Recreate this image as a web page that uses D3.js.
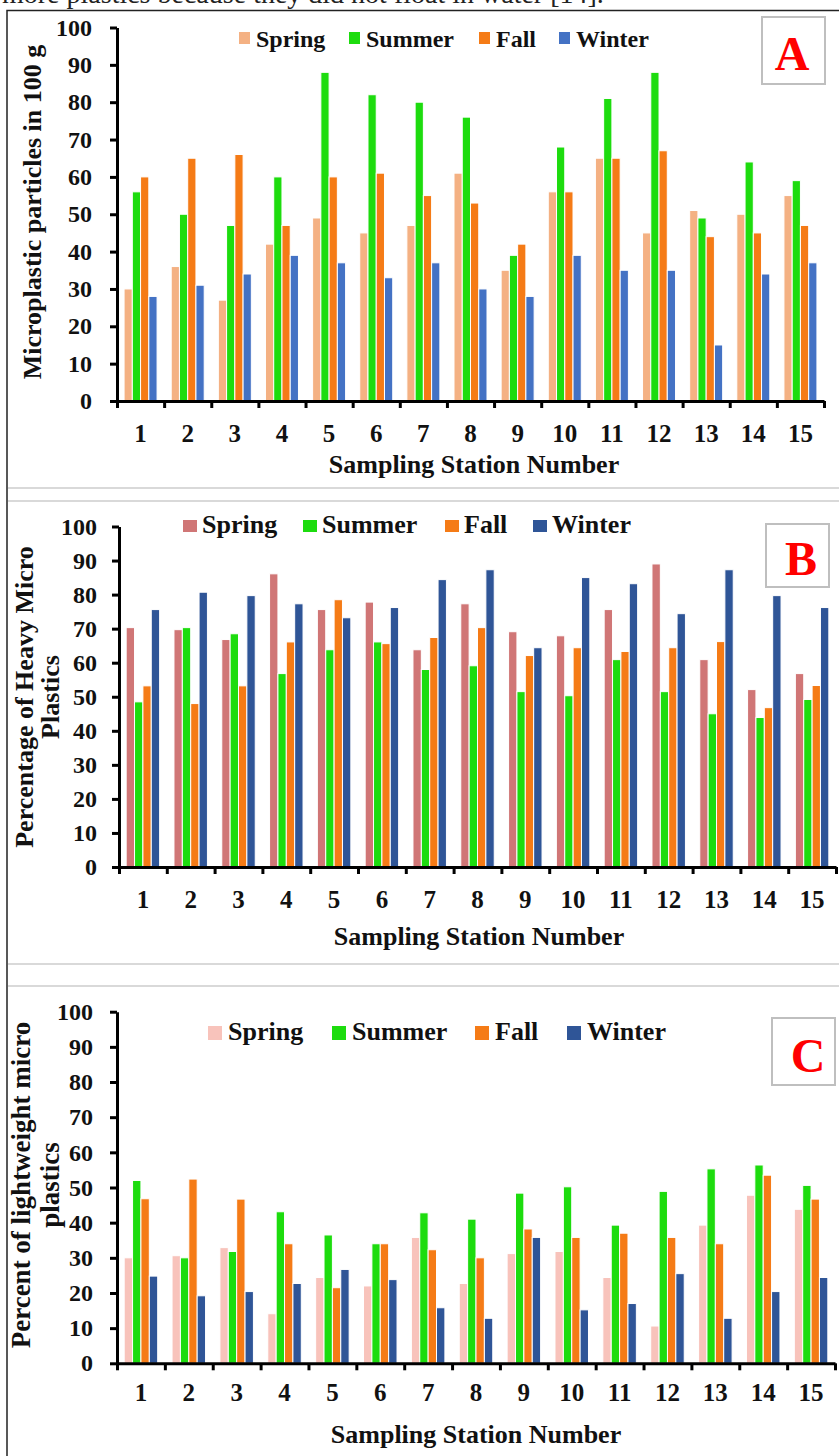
<!DOCTYPE html>
<html>
<head>
<meta charset="utf-8">
<script src="https://cdn.jsdelivr.net/npm/d3@7"></script>
<style>
  body { margin: 0; background: #fff; }
  svg text { font-family: 'Liberation Serif', 'Times New Roman', serif; }
</style>
</head>
<body>
<div id="chart"></div>
<script>
// stations and seasons
const stations = ['1','2','3','4','5','6','7','8','9','10','11','12','13','14','15']
const seasons = ['Spring','Summer','Fall','Winter']
const yTicks = [0,10,20,30,40,50,60,70,80,90,100]

// A - microplastic particles in 100 g
const countSpring = [30, 36, 27, 42, 49, 45, 47, 61, 35, 56, 65, 45, 51, 50, 55]
const countSummer = [56, 50, 47, 60, 88, 82, 80, 76, 39, 68, 81, 88, 49, 64, 59]
const countFall   = [60, 65, 66, 47, 60, 61, 55, 53, 42, 56, 65, 67, 44, 45, 47]
const countWinter = [28, 31, 34, 39, 37, 33, 37, 30, 28, 39, 35, 35, 15, 34, 37]

// B - percentage of heavy micro plastics
const heavySpring = [70.3, 69.7, 66.8, 86.1, 75.6, 77.8, 63.8, 77.3, 69.1, 67.9, 75.6, 89.0, 60.9, 52.1, 56.8]
const heavySummer = [48.5, 70.3, 68.5, 56.8, 63.8, 66.1, 58.0, 59.1, 51.5, 50.3, 60.9, 51.5, 45.0, 43.9, 49.2]
const heavyFall   = [53.2, 48.0, 53.2, 66.1, 78.5, 65.6, 67.4, 70.3, 62.1, 64.4, 63.3, 64.4, 66.2, 46.8, 53.3]
const heavyWinter = [75.6, 80.7, 79.7, 77.3, 73.2, 76.2, 84.4, 87.3, 64.4, 85.0, 83.2, 74.4, 87.3, 79.7, 76.2]

// C - percent of lightweight micro plastics
const lightSpring = [30.0, 30.6, 32.9, 14.1, 24.4, 22.0, 35.8, 22.7, 31.2, 31.8, 24.4, 10.6, 39.3, 47.8, 43.8]
const lightSummer = [52.0, 30.0, 31.8, 43.1, 36.5, 34.0, 42.8, 41.0, 48.4, 50.2, 39.3, 48.9, 55.3, 56.4, 50.6]
const lightFall   = [46.8, 52.4, 46.7, 34.0, 21.5, 34.0, 32.3, 30.0, 38.2, 35.8, 37.0, 35.8, 34.0, 53.5, 46.7]
const lightWinter = [24.8, 19.2, 20.4, 22.7, 26.7, 23.8, 15.8, 12.8, 35.8, 15.2, 17.0, 25.5, 12.8, 20.4, 24.4]

const width = 839
const height = 1456

const svg = d3.select('#chart')
  .append('svg')
  .attr('width', width)
  .attr('height', height)
  .attr('viewBox', [0, 0, width, height])

svg.append('rect').attr('width', width).attr('height', height).attr('fill', 'white')

// bit of the paragraph above the figure, cut off by the top edge
svg.append('text')
  .attr('x', 2)
  .attr('y', 3)
  .style('font-size', '28px')
  .attr('fill', '#222')
  .text('more plastics because they did not float in water [14].')

// figure frame
svg.append('path')
  .attr('d', `M7,${height} V10.5 H${width}`)
  .attr('fill', 'none')
  .attr('stroke', '#222')
  .attr('stroke-width', 1.5)

// chart area borders between the panels
svg.selectAll('line.sep')
  .data([488, 501, 964, 986])
  .join('line')
  .attr('class', 'sep')
  .attr('x1', 8).attr('x2', width)
  .attr('y1', d => d).attr('y2', d => d)
  .attr('stroke', '#d9d9d9')
  .attr('stroke-width', 2)

const panels = [
  {
    letter: 'A', series: [countSpring, countSummer, countFall, countWinter],
    colors: ['#f4b183', '#1ddc0e', '#f57b16', '#4472c4'],
    xl: 117, xr: 824, y0: 401, y100: 27.5,
    tickFont: 24, xTickFont: 25, tickPad: 18, xLabelY: 442,
    legX: [239, 349, 479, 559], legY: 32, legW: 11, legH: 12, legGap: 17, legBase: 47, legFont: 24,
    yTitle: ['Microplastic particles in 100 g'], yTitleX: [32], yTitleY: 212, yTitleFont: 26,
    xTitleX: 474, xTitleY: 473, xTitleFont: 26,
    box: [762, 17, 63, 67], letterX: 792, letterY: 70
  },
  {
    letter: 'B', series: [heavySpring, heavySummer, heavyFall, heavyWinter],
    colors: ['#d07676', '#1ddc0e', '#f57b16', '#2f5597'],
    xl: 119, xr: 836, y0: 867, y100: 526.5,
    tickFont: 24, xTickFont: 25, tickPad: 15, xLabelY: 908,
    legX: [183, 303, 445, 533], legY: 520, legW: 14, legH: 12, legGap: 19, legBase: 533, legFont: 26,
    yTitle: ['Percentage of Heavy Micro', 'Plastics'], yTitleX: [24, 50], yTitleY: 697, yTitleFont: 26,
    xTitleX: 479, xTitleY: 945, xTitleFont: 26,
    box: [766, 524, 63, 63], letterX: 801, letterY: 575
  },
  {
    letter: 'C', series: [lightSpring, lightSummer, lightFall, lightWinter],
    colors: ['#f8c3bb', '#1ddc0e', '#f57b16', '#2f5597'],
    xl: 117, xr: 835, y0: 1363.3, y100: 1011.7,
    tickFont: 24, xTickFont: 25, tickPad: 17, xLabelY: 1401,
    legX: [208, 332, 475, 567], legY: 1026, legW: 14, legH: 14, legGap: 20, legBase: 1040, legFont: 26,
    yTitle: ['Percent of lightweight micro', 'plastics'], yTitleX: [21, 50], yTitleY: 1185, yTitleFont: 27,
    xTitleX: 476, xTitleY: 1443, xTitleFont: 26,
    box: [772, 1018, 63, 67], letterX: 808, letterY: 1072
  }
]

panels.forEach(p => {
  const g = svg.append('g').attr('class', 'panel-' + p.letter)

  const x = d3.scaleBand()
    .domain(stations)
    .range([p.xl, p.xr])
    .paddingInner(0.3)
    .paddingOuter(0.15)

  const xSeason = d3.scaleBand()
    .domain(seasons)
    .range([0, x.bandwidth()])

  const y = d3.scaleLinear()
    .domain([0, 100])
    .range([p.y0, p.y100])

  const colour = d3.scaleOrdinal().domain(seasons).range(p.colors)

  // bars
  const groups = g.selectAll('g.station')
    .data(stations)
    .join('g')
    .attr('class', 'station')
    .attr('transform', d => `translate(${x(d)},0)`)

  groups.selectAll('rect')
    .data((d, i) => seasons.map((s, k) => ({ season: s, value: p.series[k][i] })))
    .join('rect')
    .attr('x', d => xSeason(d.season))
    .attr('width', xSeason.bandwidth())
    .attr('y', d => y(d.value))
    .attr('height', d => y(0) - y(d.value))
    .attr('fill', d => colour(d.season))
    .attr('stroke', 'white')
    .attr('stroke-width', 1)

  // y axis
  const yAxis = g.append('g')
    .attr('transform', `translate(${p.xl},0)`)
    .call(d3.axisLeft(y).tickValues(yTicks).tickSize(7).tickSizeOuter(0).tickPadding(p.tickPad))
  yAxis.attr('font-family', null)
  yAxis.select('.domain').attr('stroke-width', 3)
  yAxis.selectAll('.tick line').attr('stroke-width', 3)
  yAxis.selectAll('.tick text')
    .style('font-family', "'Liberation Serif', 'Times New Roman', serif")
    .style('font-size', p.tickFont + 'px')
    .style('font-weight', 'bold')
    .attr('fill', '#111')

  // x axis: ticks at station boundaries
  const xEdge = d3.scaleLinear().domain([0, stations.length]).range([p.xl, p.xr])
  const xAxis = g.append('g')
    .attr('transform', `translate(0,${p.y0})`)
    .call(d3.axisBottom(xEdge).ticks(stations.length).tickSize(7).tickSizeOuter(0).tickFormat(''))
  xAxis.select('.domain').attr('stroke-width', 3)
  xAxis.selectAll('.tick line').attr('stroke-width', 3)

  // station labels
  g.append('g')
    .selectAll('text')
    .data(stations)
    .join('text')
    .attr('x', d => x(d) + x.bandwidth() / 2)
    .attr('y', p.xLabelY)
    .attr('text-anchor', 'middle')
    .style('font-size', p.xTickFont + 'px')
    .style('font-weight', 'bold')
    .attr('fill', '#111')
    .text(d => d)

  // axis titles
  g.append('text')
    .attr('x', p.xTitleX)
    .attr('y', p.xTitleY)
    .attr('text-anchor', 'middle')
    .style('font-size', p.xTitleFont + 'px')
    .style('font-weight', 'bold')
    .attr('fill', '#111')
    .text('Sampling Station Number')

  p.yTitle.forEach((line, i) => {
    g.append('text')
      .attr('transform', `translate(${p.yTitleX[i]},${p.yTitleY}) rotate(-90)`)
      .attr('text-anchor', 'middle')
      .attr('dy', '0.35em')
      .style('font-size', p.yTitleFont + 'px')
      .style('font-weight', 'bold')
      .attr('fill', '#111')
      .text(line)
  })

  // legend
  const legend = g.append('g')
  seasons.forEach((s, i) => {
    legend.append('rect')
      .attr('x', p.legX[i])
      .attr('y', p.legY)
      .attr('width', p.legW)
      .attr('height', p.legH)
      .attr('fill', colour(s))
    legend.append('text')
      .attr('x', p.legX[i] + p.legGap)
      .attr('y', p.legBase)
      .style('font-size', p.legFont + 'px')
      .style('font-weight', 'bold')
      .attr('fill', '#111')
      .text(s)
  })

  // panel letter
  g.append('rect')
    .attr('x', p.box[0]).attr('y', p.box[1])
    .attr('width', p.box[2]).attr('height', p.box[3])
    .attr('fill', 'white')
    .attr('stroke', '#bfbfbf')
    .attr('stroke-width', 2)
  g.append('text')
    .attr('x', p.letterX)
    .attr('y', p.letterY)
    .attr('text-anchor', 'middle')
    .style('font-size', '48px')
    .style('font-weight', 'bold')
    .attr('fill', 'red')
    .text(p.letter)
})
</script>
</body>
</html>
